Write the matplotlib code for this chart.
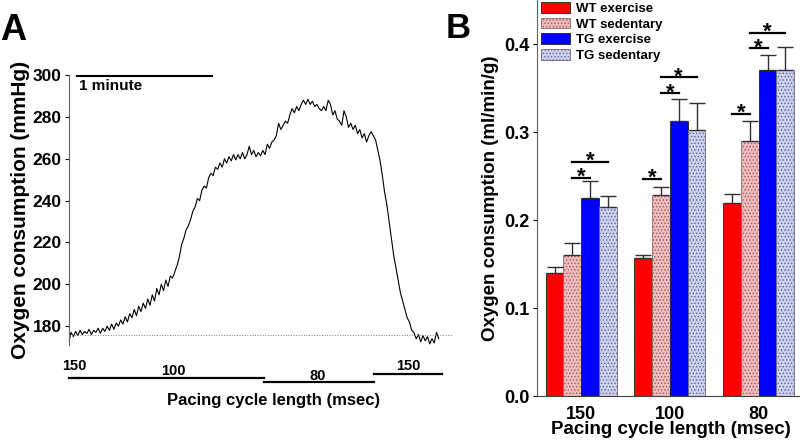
import numpy as np
import matplotlib.pyplot as plt

plt.rcParams['font.family'] = ['Liberation Sans', 'DejaVu Sans']
plt.rcParams['font.weight'] = 'bold'
plt.rcParams['hatch.linewidth'] = 0.6

# ---- panel A: oxygen tension trace (mmHg), one point per second ----
trace = [172.5, 177, 175, 177.5, 175.5, 178, 176, 177.5, 176.5, 178.5,
         176, 178, 177, 179, 176.5, 179, 177.5, 180, 178, 181,
         178.5, 181.5, 180, 183, 181, 184.5, 182, 186, 184, 188,
         185, 189.5, 187, 191, 188.5, 193, 190, 195, 192, 198,
         195, 200, 197, 202, 199, 204, 203, 206, 209, 213,
         219, 222, 226, 228, 231, 235, 237, 241, 240, 245,
         247, 246, 251, 253, 252, 256, 255, 258, 256, 260,
         258, 261, 259, 262, 259.5, 262, 260, 263, 260, 262,
         266, 262, 264, 261, 263, 261.5, 264, 262, 267, 265,
         268, 269, 271, 277, 274, 276, 278, 277, 281, 284,
         282, 285, 283, 286, 288, 286, 288.5, 286, 287.5, 285,
         286, 284, 283, 285, 283, 288, 286, 281, 283, 279,
         278, 276, 283, 280, 275, 277, 274, 276, 272, 274,
         270, 272, 268, 271, 273, 271, 269, 264, 259, 252,
         244, 238, 230, 222, 214, 208, 202, 196, 192, 188,
         184, 182, 178, 177, 174, 176, 172.5, 175.5, 173, 175,
         171.5, 174, 172, 177, 174]
baseline = 175.7

# pacing periods: (label, start s, end s)
pacing = [("150", 0, 3.9), ("100", 3.9, 86.7), ("80", 86.7, 135.3), ("150", 135.3, 165.6)]

# ---- panel B: bar data ----
cycle_labels = ["150", "100", "80"]
groups = ["WT exercise", "WT sedentary", "TG exercise", "TG sedentary"]
wt_ex = [0.140, 0.157, 0.219]
wt_ex_err = [0.007, 0.003, 0.011]
wt_sed = [0.160, 0.228, 0.290]
wt_sed_err = [0.014, 0.009, 0.023]
tg_ex = [0.225, 0.313, 0.370]
tg_ex_err = [0.019, 0.025, 0.018]
tg_sed = [0.215, 0.302, 0.371]
tg_sed_err = [0.012, 0.031, 0.026]

# significance brackets: (group index, from bar, to bar, height)
sig = [(0, 1, 2, 0.248), (0, 1, 3, 0.266),
       (1, 0, 1, 0.247), (1, 1, 2, 0.344), (1, 1, 3, 0.362),
       (2, 0, 1, 0.321), (2, 1, 2, 0.395), (2, 1, 3, 0.413)]

fig = plt.figure(figsize=(8, 4.42), dpi=100)

# ================= Panel A =================
axA = fig.add_axes([0.086, 0.2195, 0.485, 0.6105])
t = np.arange(len(trace))
axA.plot(t, trace, color='black', lw=0.8)
axA.plot([0, 170], [baseline, baseline], color='gray', lw=0.7, ls=':')
axA.set_xlim(0, 172)
axA.set_ylim(171, 300)
axA.set_yticks([180, 200, 220, 240, 260, 280, 300])
axA.tick_params(axis='y', labelsize=12.5, length=3, width=0.8, pad=2)
axA.set_xticks([])
for s in ['top', 'right', 'bottom']:
    axA.spines[s].set_visible(False)
axA.spines['left'].set_color('#606060')
axA.set_ylabel("Oxygen consumption (mmHg)", fontsize=15, fontweight='bold', labelpad=2)

# 1 minute scale bar
axA.plot([3.5, 63.5], [299.6, 299.6], color='black', lw=1.5, clip_on=False)
axA.text(4.5, 294.6, "1 minute", fontsize=11, fontweight='bold', va='center', ha='left')

# pacing bars below the trace
bar_y = [155.3, 155.1, 153.1, 157.1]
lab_y = [161.0, 158.6, 156.0, 161.0]
lab_x = [2.6, 46.4, 110.4, 150.7]
for (lab, t0, t1), by, ly, lx in zip(pacing, bar_y, lab_y, lab_x):
    axA.plot([t0, t1], [by, by], color='black', lw=1.6, clip_on=False)
    axA.text(lx, ly, lab, fontsize=10.5, fontweight='bold', ha='center', va='center', clip_on=False)
axA.text(90.7, 144.6, "Pacing cycle length (msec)", fontsize=12, fontweight='bold',
         ha='center', va='center', clip_on=False)

fig.text(0.0, 0.93, "A", fontsize=26, fontweight='bold', va='center', ha='left')

# ================= Panel B =================
axB = fig.add_axes([0.671, 0.104, 0.335, 0.896])
x = np.arange(len(cycle_labels))
w = 0.2
vals = [wt_ex, wt_sed, tg_ex, tg_sed]
errs = [wt_ex_err, wt_sed_err, tg_ex_err, tg_sed_err]
faces = ['#ff0000', '#f3b9b9', '#0000ff', '#c9d0f0']
edges = ['#202020', '#8a6a6a', '#202020', '#6a6a8a']
hatches = [None, '.....', None, '.....']
offsets = [-1.5, -0.5, 0.5, 1.5]
for v, e, fc, ec, h, off, name in zip(vals, errs, faces, edges, hatches, offsets, groups):
    xs = x + off * w
    axB.bar(xs, v, width=w, color=fc, edgecolor=ec, hatch=h, linewidth=0.6, label=name, zorder=2)
    axB.errorbar(xs, v, yerr=[np.zeros(len(e)), e], fmt='none', ecolor='#303030',
                 elinewidth=1.0, capsize=5.5, capthick=1.0, zorder=3)

for g, b0, b1, yv in sig:
    x0 = x[g] + offsets[b0] * w
    x1 = x[g] + offsets[b1] * w
    axB.plot([x0, x1], [yv, yv], color='black', lw=1.6, zorder=4)
    axB.text((x0 + x1) / 2, yv - 0.006, "*", fontsize=16, fontweight='bold',
             ha='center', va='baseline', zorder=4)

axB.set_xlim(-0.5, 2.52)
axB.set_ylim(0, 0.45)
axB.set_yticks([0.0, 0.1, 0.2, 0.3, 0.4])
axB.set_yticklabels(["0.0", "0.1", "0.2", "0.3", "0.4"])
axB.set_xticks(x)
axB.set_xticklabels(cycle_labels)
axB.tick_params(axis='y', labelsize=13, length=3, width=0.8, pad=2)
axB.tick_params(axis='x', labelsize=13, length=0, pad=7)
for s in ['top', 'right']:
    axB.spines[s].set_visible(False)
axB.spines['left'].set_color('#606060')
axB.spines['bottom'].set_color('#404040')
axB.set_ylabel("Oxygen consumption (ml/min/g)", fontsize=13.5, fontweight='bold', labelpad=4)
axB.set_xlabel("Pacing cycle length (msec)", fontsize=13.5, fontweight='bold', labelpad=-1)
axB.legend(loc='upper left', bbox_to_anchor=(0.0, 1.005), frameon=False,
           handlelength=2.2, handleheight=0.85, handletextpad=0.45, labelspacing=0.22,
           borderaxespad=0.0, borderpad=0.3,
           prop={'weight': 'bold', 'size': 9.5})

fig.text(0.557, 0.935, "B", fontsize=25, fontweight='bold', va='center', ha='left')

plt.savefig('out.png', dpi=100)
